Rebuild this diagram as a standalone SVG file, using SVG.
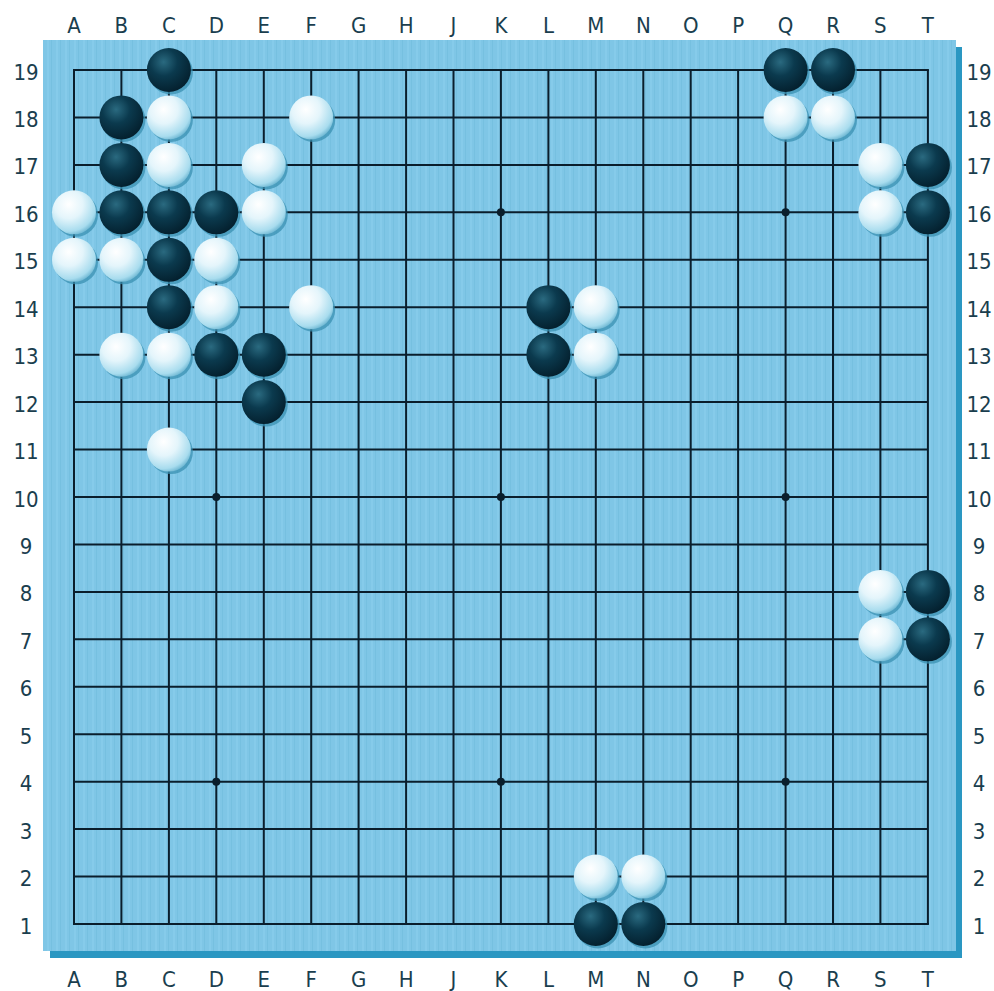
<svg xmlns="http://www.w3.org/2000/svg" xmlns:xlink="http://www.w3.org/1999/xlink" width="994" height="991" viewBox="0 0 994 991">
<defs>
<style>
.lbl{font-family:"DejaVu Sans Condensed","DejaVu Sans","Liberation Sans",sans-serif;font-stretch:condensed;font-size:22px;fill:#1a3e4e;text-anchor:middle}
.grid line{stroke:#0a1e2c;stroke-width:2}
.star{fill:#0a1e2c}
</style>
<pattern id="stripes" width="9" height="40" patternUnits="userSpaceOnUse">
<rect width="9" height="40" fill="#7fc6e6"/>
<rect x="2" width="2" height="40" fill="#86cbea"/>
<rect x="6" width="1" height="40" fill="#76c0e0"/>
</pattern>
<radialGradient id="gb" cx="0.38" cy="0.32" r="0.7">
<stop offset="0" stop-color="#2a6a80"/>
<stop offset="0.45" stop-color="#0b3a4e"/>
<stop offset="1" stop-color="#04202e"/>
</radialGradient>
<radialGradient id="gw" cx="0.38" cy="0.32" r="0.72">
<stop offset="0" stop-color="#ffffff"/>
<stop offset="0.45" stop-color="#e4f5fb"/>
<stop offset="0.85" stop-color="#a8dcee"/>
<stop offset="1" stop-color="#6cb6d2"/>
</radialGradient>
<g id="b"><circle cx="2" cy="2.5" r="22" fill="#3a90b2" opacity="0.75"/><circle r="22" fill="url(#gb)"/></g>
<g id="w"><circle cx="2" cy="2.5" r="22" fill="#3a90b2" opacity="0.75"/><circle r="22" fill="url(#gw)"/></g>
</defs>
<rect width="994" height="991" fill="#ffffff"/>
<g id="board">
<rect x="50" y="47" width="912" height="911" fill="#2a97c2"/>
<rect x="43" y="40" width="913" height="911" fill="url(#stripes)"/>
</g>
<g id="grid" class="grid">
<line x1="74" y1="70" x2="74" y2="924"/>
<line x1="121.4" y1="70" x2="121.4" y2="924"/>
<line x1="168.9" y1="70" x2="168.9" y2="924"/>
<line x1="216.3" y1="70" x2="216.3" y2="924"/>
<line x1="263.8" y1="70" x2="263.8" y2="924"/>
<line x1="311.2" y1="70" x2="311.2" y2="924"/>
<line x1="358.6" y1="70" x2="358.6" y2="924"/>
<line x1="406.1" y1="70" x2="406.1" y2="924"/>
<line x1="453.5" y1="70" x2="453.5" y2="924"/>
<line x1="500.9" y1="70" x2="500.9" y2="924"/>
<line x1="548.4" y1="70" x2="548.4" y2="924"/>
<line x1="595.8" y1="70" x2="595.8" y2="924"/>
<line x1="643.3" y1="70" x2="643.3" y2="924"/>
<line x1="690.7" y1="70" x2="690.7" y2="924"/>
<line x1="738.1" y1="70" x2="738.1" y2="924"/>
<line x1="785.6" y1="70" x2="785.6" y2="924"/>
<line x1="833" y1="70" x2="833" y2="924"/>
<line x1="880.4" y1="70" x2="880.4" y2="924"/>
<line x1="927.9" y1="70" x2="927.9" y2="924"/>
<line x1="73" y1="70" x2="928.9" y2="70"/>
<line x1="74" y1="117.4" x2="927.9" y2="117.4"/>
<line x1="74" y1="164.9" x2="927.9" y2="164.9"/>
<line x1="74" y1="212.3" x2="927.9" y2="212.3"/>
<line x1="74" y1="259.8" x2="927.9" y2="259.8"/>
<line x1="74" y1="307.2" x2="927.9" y2="307.2"/>
<line x1="74" y1="354.7" x2="927.9" y2="354.7"/>
<line x1="74" y1="402.1" x2="927.9" y2="402.1"/>
<line x1="74" y1="449.6" x2="927.9" y2="449.6"/>
<line x1="74" y1="497" x2="927.9" y2="497"/>
<line x1="74" y1="544.4" x2="927.9" y2="544.4"/>
<line x1="74" y1="591.9" x2="927.9" y2="591.9"/>
<line x1="74" y1="639.3" x2="927.9" y2="639.3"/>
<line x1="74" y1="686.8" x2="927.9" y2="686.8"/>
<line x1="74" y1="734.2" x2="927.9" y2="734.2"/>
<line x1="74" y1="781.7" x2="927.9" y2="781.7"/>
<line x1="74" y1="829.1" x2="927.9" y2="829.1"/>
<line x1="74" y1="876.6" x2="927.9" y2="876.6"/>
<line x1="73" y1="924" x2="928.9" y2="924"/>
</g>
<g id="stars" class="star">
<circle cx="216.3" cy="212.3" r="4"/><circle cx="500.9" cy="212.3" r="4"/><circle cx="785.6" cy="212.3" r="4"/>
<circle cx="216.3" cy="497" r="4"/><circle cx="500.9" cy="497" r="4"/><circle cx="785.6" cy="497" r="4"/>
<circle cx="216.3" cy="781.7" r="4"/><circle cx="500.9" cy="781.7" r="4"/><circle cx="785.6" cy="781.7" r="4"/>
</g>
<g id="coords" class="lbl">
<text x="74" y="33">A</text><text x="121.4" y="33">B</text><text x="168.9" y="33">C</text><text x="216.3" y="33">D</text><text x="263.8" y="33">E</text><text x="311.2" y="33">F</text><text x="358.6" y="33">G</text><text x="406.1" y="33">H</text><text x="453.5" y="33">J</text><text x="500.9" y="33">K</text><text x="548.4" y="33">L</text><text x="595.8" y="33">M</text><text x="643.3" y="33">N</text><text x="690.7" y="33">O</text><text x="738.1" y="33">P</text><text x="785.6" y="33">Q</text><text x="833" y="33">R</text><text x="880.4" y="33">S</text><text x="927.9" y="33">T</text>
<text x="74" y="987">A</text><text x="121.4" y="987">B</text><text x="168.9" y="987">C</text><text x="216.3" y="987">D</text><text x="263.8" y="987">E</text><text x="311.2" y="987">F</text><text x="358.6" y="987">G</text><text x="406.1" y="987">H</text><text x="453.5" y="987">J</text><text x="500.9" y="987">K</text><text x="548.4" y="987">L</text><text x="595.8" y="987">M</text><text x="643.3" y="987">N</text><text x="690.7" y="987">O</text><text x="738.1" y="987">P</text><text x="785.6" y="987">Q</text><text x="833" y="987">R</text><text x="880.4" y="987">S</text><text x="927.9" y="987">T</text>
<text x="26" y="79.5">19</text><text x="26" y="126.9">18</text><text x="26" y="174.4">17</text><text x="26" y="221.8">16</text><text x="26" y="269.3">15</text><text x="26" y="316.7">14</text><text x="26" y="364.2">13</text><text x="26" y="411.6">12</text><text x="26" y="459.1">11</text><text x="26" y="506.5">10</text><text x="26" y="553.9">9</text><text x="26" y="601.4">8</text><text x="26" y="648.8">7</text><text x="26" y="696.3">6</text><text x="26" y="743.7">5</text><text x="26" y="791.2">4</text><text x="26" y="838.6">3</text><text x="26" y="886.1">2</text><text x="26" y="933.5">1</text>
<text x="979" y="79.5">19</text><text x="979" y="126.9">18</text><text x="979" y="174.4">17</text><text x="979" y="221.8">16</text><text x="979" y="269.3">15</text><text x="979" y="316.7">14</text><text x="979" y="364.2">13</text><text x="979" y="411.6">12</text><text x="979" y="459.1">11</text><text x="979" y="506.5">10</text><text x="979" y="553.9">9</text><text x="979" y="601.4">8</text><text x="979" y="648.8">7</text><text x="979" y="696.3">6</text><text x="979" y="743.7">5</text><text x="979" y="791.2">4</text><text x="979" y="838.6">3</text><text x="979" y="886.1">2</text><text x="979" y="933.5">1</text>
</g>
<g id="black-stones">
<use xlink:href="#b" x="168.9" y="70"/>
<use xlink:href="#b" x="121.4" y="117.4"/>
<use xlink:href="#b" x="121.4" y="164.9"/>
<use xlink:href="#b" x="121.4" y="212.3"/>
<use xlink:href="#b" x="168.9" y="212.3"/>
<use xlink:href="#b" x="216.3" y="212.3"/>
<use xlink:href="#b" x="168.9" y="259.8"/>
<use xlink:href="#b" x="168.9" y="307.2"/>
<use xlink:href="#b" x="216.3" y="354.7"/>
<use xlink:href="#b" x="263.8" y="354.7"/>
<use xlink:href="#b" x="263.8" y="402.1"/>
<use xlink:href="#b" x="548.4" y="307.2"/>
<use xlink:href="#b" x="548.4" y="354.7"/>
<use xlink:href="#b" x="785.6" y="70"/>
<use xlink:href="#b" x="833" y="70"/>
<use xlink:href="#b" x="927.9" y="164.9"/>
<use xlink:href="#b" x="927.9" y="212.3"/>
<use xlink:href="#b" x="927.9" y="591.9"/>
<use xlink:href="#b" x="927.9" y="639.3"/>
<use xlink:href="#b" x="595.8" y="924"/>
<use xlink:href="#b" x="643.3" y="924"/>
</g>
<g id="white-stones">
<use xlink:href="#w" x="168.9" y="117.4"/>
<use xlink:href="#w" x="311.2" y="117.4"/>
<use xlink:href="#w" x="168.9" y="164.9"/>
<use xlink:href="#w" x="263.8" y="164.9"/>
<use xlink:href="#w" x="74" y="212.3"/>
<use xlink:href="#w" x="263.8" y="212.3"/>
<use xlink:href="#w" x="74" y="259.8"/>
<use xlink:href="#w" x="121.4" y="259.8"/>
<use xlink:href="#w" x="216.3" y="259.8"/>
<use xlink:href="#w" x="216.3" y="307.2"/>
<use xlink:href="#w" x="311.2" y="307.2"/>
<use xlink:href="#w" x="121.4" y="354.7"/>
<use xlink:href="#w" x="168.9" y="354.7"/>
<use xlink:href="#w" x="168.9" y="449.6"/>
<use xlink:href="#w" x="595.8" y="307.2"/>
<use xlink:href="#w" x="595.8" y="354.7"/>
<use xlink:href="#w" x="785.6" y="117.4"/>
<use xlink:href="#w" x="833" y="117.4"/>
<use xlink:href="#w" x="880.4" y="164.9"/>
<use xlink:href="#w" x="880.4" y="212.3"/>
<use xlink:href="#w" x="880.4" y="591.9"/>
<use xlink:href="#w" x="880.4" y="639.3"/>
<use xlink:href="#w" x="595.8" y="876.6"/>
<use xlink:href="#w" x="643.3" y="876.6"/>
</g>
</svg>
